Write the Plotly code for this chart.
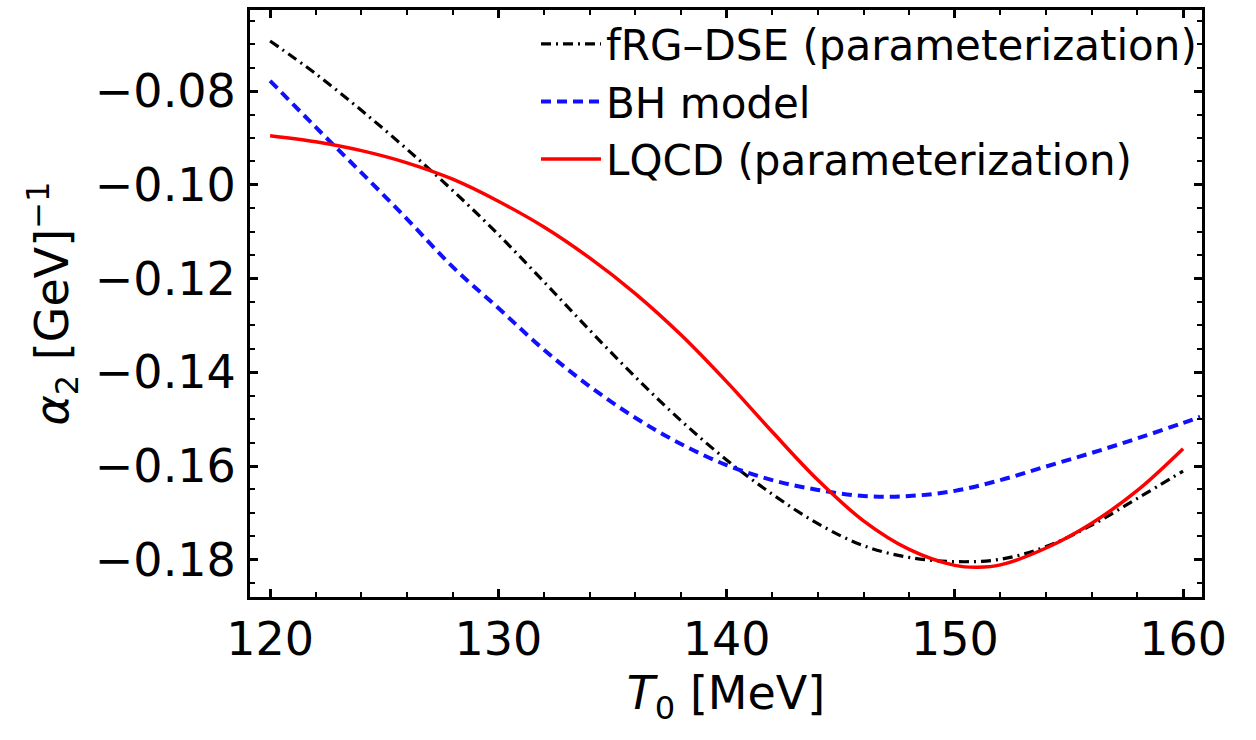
import plotly.graph_objects as go

# fRG-DSE parameterization
t_frg = [120, 122, 124, 126, 128, 130, 132, 134, 136, 138, 140,
         142, 144, 146, 148, 150, 152, 154, 156, 158, 160]
a_frg = [-0.0693, -0.0763, -0.0841, -0.0924, -0.1012, -0.1106, -0.1207, -0.1310, -0.1410,
         -0.1503, -0.1587, -0.1660, -0.1723, -0.1770, -0.1795, -0.1804, -0.1799, -0.1772,
         -0.1726, -0.1669, -0.1611]

# BH model
t_bh = [120, 122, 124, 126, 128, 130, 132, 134, 136, 138, 140,
        142, 144, 146, 148, 150, 152, 154, 156, 158, 160, 160.75]
a_bh = [-0.0778, -0.0877, -0.0974, -0.1073, -0.1175, -0.1263, -0.1352, -0.1430, -0.1497,
        -0.1553, -0.1598, -0.1630, -0.1651, -0.1664, -0.1664, -0.1653, -0.1630, -0.1601,
        -0.1572, -0.1541, -0.1508, -0.1495]

# LQCD parameterization
t_lq = [120, 122, 124, 126, 128, 130, 132, 134, 136, 138, 140,
        142, 144, 146, 148, 150, 151, 152, 154, 156, 158, 160]
a_lq = [-0.0895, -0.0908, -0.0927, -0.0953, -0.0988, -0.1035, -0.1090, -0.1156, -0.1232,
        -0.1320, -0.1420, -0.1527, -0.1630, -0.1717, -0.1778, -0.1812, -0.1816, -0.1811,
        -0.1775, -0.1722, -0.1652, -0.1563]

x_ticks = [120, 130, 140, 150, 160]
y_ticks = [-0.18, -0.16, -0.14, -0.12, -0.10, -0.08]

FONT = "DejaVu Sans"

fig = go.Figure()
fig.add_trace(go.Scatter(
    x=t_frg, y=a_frg, mode="lines", name="fRG–DSE (parameterization)",
    line=dict(color="black", width=3.2, dash="10px,5px,2px,5px", shape="spline", smoothing=1),
))
fig.add_trace(go.Scatter(
    x=t_bh, y=a_bh, mode="lines", name="BH model",
    line=dict(color="#1010ff", width=4, dash="10px,6px", shape="spline", smoothing=1),
))
fig.add_trace(go.Scatter(
    x=t_lq, y=a_lq, mode="lines", name="LQCD (parameterization)",
    line=dict(color="#ff0000", width=3.5, shape="spline", smoothing=1),
))

axis_common = dict(
    showline=True, linecolor="black", linewidth=3, mirror="ticks",
    ticks="inside", ticklen=8, tickwidth=2.5, tickcolor="black",
    showgrid=False, zeroline=False,
    tickfont=dict(family=FONT, size=46, color="black"),
)

fig.update_xaxes(
    range=[119.12, 160.83], tickvals=x_ticks, ticklabelstandoff=0,
    minor=dict(dtick=2, ticks="inside", ticklen=5, tickwidth=2, tickcolor="black", showgrid=False),
    title=dict(text="<i>T</i><sub>0</sub> [MeV]", font=dict(family=FONT, size=46, color="black"),
               standoff=12),
    **axis_common,
)
fig.update_yaxes(
    range=[-0.18795, -0.06269], tickvals=y_ticks, tickformat=".2f", ticklabelstandoff=2,
    minor=dict(dtick=0.005, ticks="inside", ticklen=5, tickwidth=2, tickcolor="black", showgrid=False),
    title=dict(text="<i>α</i><sub>2</sub> [GeV]<sup>−1</sup>", font=dict(family=FONT, size=46, color="black"),
               standoff=12),
    **axis_common,
)

fig.update_layout(
    width=1256, height=740,
    margin=dict(l=250, r=54, t=7, b=143),
    plot_bgcolor="white", paper_bgcolor="white",
    font=dict(family=FONT, color="black"),
    legend=dict(
        x=1.0, y=1.0, xanchor="right", yanchor="top",
        bgcolor="rgba(0,0,0,0)", borderwidth=0,
        font=dict(family=FONT, size=42, color="black"),
        tracegroupgap=0, itemwidth=60,
    ),
)

fig.write_html("out.html")
